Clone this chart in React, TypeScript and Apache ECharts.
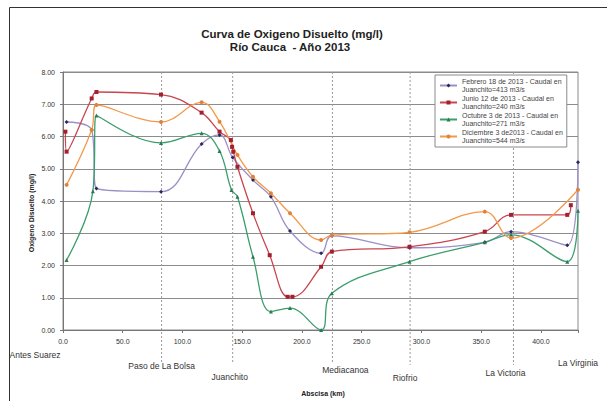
import React, { useEffect, useRef } from 'react';
import * as echarts from 'echarts';

const titleLines = ['Curva de Oxigeno Disuelto (mg/l)', 'Río Cauca  - Año 2013'];
const xAxisTitle = 'Abscisa (km)';
const yAxisTitle = 'Oxigeno Disuelto (mg/l)';

const seriesNames = [
  'Febrero 18 de 2013 - Caudal en\nJuanchito=413 m3/s',
  'Junio 12 de 2013 - Caudal en\nJuanchito=240 m3/s',
  'Octubre 3 de 2013 - Caudal en\nJuanchito=271 m3/s',
  'Diciembre 3 de2013 - Caudal en\nJuanchito=544 m3/s',
];

// Febrero 18
const febKm = [3, 24, 28, 82, 116, 131, 142, 159, 174, 190, 216, 225, 290, 353, 375, 422, 431];
const febOD = [6.45, 6.2, 4.39, 4.29, 5.77, 6.05, 5.35, 4.65, 4.13, 3.07, 2.38, 2.92, 2.55, 2.72, 3.05, 2.63, 5.2];
// Junio 12
const junKm = [2, 3, 24, 28, 82, 116, 131, 140.5, 141.5, 142.5, 146, 159, 173, 188, 192, 216, 225, 290, 353, 375, 422, 425];
const junOD = [6.15, 5.53, 7.18, 7.38, 7.3, 6.74, 6.15, 5.89, 5.68, 5.53, 5.06, 3.62, 2.32, 1.03, 1.03, 1.96, 2.43, 2.58, 3.05, 3.57, 3.57, 3.87];
// Octubre 3
const octKm = [3, 25, 28, 82, 116, 131, 141, 146, 159, 174, 190, 216, 225, 290, 353, 375, 422, 431];
const octOD = [2.17, 4.3, 6.65, 5.8, 6.1, 5.55, 4.34, 4.13, 2.27, 0.57, 0.68, 0.0, 1.14, 2.12, 2.72, 2.95, 2.12, 3.7];
// Diciembre 3
const dicKm = [3, 24, 28, 82, 116, 131, 146, 159, 174, 190, 216, 225, 290, 353, 375, 431];
const dicOD = [4.5, 6.2, 6.98, 6.45, 7.06, 6.46, 5.43, 4.75, 4.24, 3.62, 2.79, 2.94, 3.03, 3.67, 2.85, 4.35];

const stationNames = ['Antes Suarez', 'Paso de La Bolsa', 'Juanchito', 'Mediacanoa', 'Riofrio', 'La Victoria', 'La Virginia'];
const stationKm = [0, 82.5, 142, 225.5, 290.5, 377, 431];

// layout of station labels (pixels)
const stationLabelDx = [-28, 0, -3, 13, -5, -8, 0];
const stationLabelY = [355, 366, 377, 370, 378, 373, 363];
const stationTickExt = [0, 32, 33, 32, 35, 35, 0];

const xMin = 0;
const xMax = 431;
const xStep = 50;
const yMin = 0;
const yMax = 8;
const yStep = 1;

const lineColors = ['#9d90c6', '#c8464f', '#3a9e6c', '#f3994b'];
const markerColors = ['#27285e', '#a3202e', '#2b7a50', '#e0823a'];
const markerShapes = ['diamond', 'rect', 'triangle', 'circle'];

const FONT = 'Liberation Sans';

export default function App() {
  const ref = useRef<HTMLDivElement>(null);

  useEffect(() => {
    if (!ref.current) return;
    const chart = echarts.init(ref.current, undefined, { renderer: 'svg' });

    const kms = [febKm, junKm, octKm, dicKm];
    const ods = [febOD, junOD, octOD, dicOD];

    const lineSeries = seriesNames.map((name, i) => ({
      name,
      type: 'line',
      data: kms[i].map((k, j) => [k, ods[i][j]]),
      smooth: 0.4,
      symbol: markerShapes[i],
      symbolSize: 4,
      showSymbol: true,
      lineStyle: { color: lineColors[i], width: 1.3 },
      itemStyle: { color: markerColors[i] },
      z: 3,
    }));

    const stationSeries = {
      name: 'stations',
      type: 'custom',
      z: 1,
      silent: true,
      data: stationKm.map((k) => [k, 0]),
      encode: { x: 0, y: 1 },
      renderItem: (params: any, api: any) => {
        const idx = params.dataIndex;
        const km = api.value(0);
        const top = api.coord([km, yMax]);
        const bot = api.coord([km, yMin]);
        const x = top[0];
        const children: any[] = [];
        if (km > xMin && km < xMax) {
          children.push({
            type: 'line',
            shape: { x1: x, y1: top[1], x2: x, y2: bot[1] + stationTickExt[idx] },
            style: { stroke: '#9a9a9a', lineWidth: 1, lineDash: [2, 2] },
          });
        }
        children.push({
          type: 'text',
          style: {
            text: stationNames[idx],
            x: x + stationLabelDx[idx],
            y: stationLabelY[idx],
            fontSize: 8.5,
            fontFamily: FONT,
            fill: '#333',
            align: 'center',
            verticalAlign: 'middle',
          },
        });
        return { type: 'group', children };
      },
    };

    chart.setOption({
      animation: false,
      backgroundColor: '#fff',
      textStyle: { fontFamily: FONT },
      grid: {
        left: 63,
        top: 72,
        width: 515,
        height: 258,
        show: true,
        borderColor: '#8a8a8a',
        borderWidth: 1,
        backgroundColor: 'transparent',
      },
      xAxis: {
        type: 'value',
        min: xMin,
        max: xMax,
        interval: xStep,
        axisLine: { show: true, lineStyle: { color: '#777' } },
        axisTick: { show: true, length: 3, lineStyle: { color: '#777' } },
        splitLine: { show: false },
        axisLabel: {
          fontSize: 7,
          color: '#333',
          margin: 8,
          fontFamily: FONT,
          formatter: (v: number) => (v % xStep === 0 ? v.toFixed(1) : ''),
        },
      },
      yAxis: {
        type: 'value',
        min: yMin,
        max: yMax,
        interval: yStep,
        axisLine: { show: true, lineStyle: { color: '#777' } },
        axisTick: { show: true, length: 3, lineStyle: { color: '#777' } },
        splitLine: { show: true, lineStyle: { color: '#8c8c8c', width: 1.2 } },
        axisLabel: {
          fontSize: 7,
          color: '#333',
          margin: 8,
          fontFamily: FONT,
          formatter: (v: number) => v.toFixed(2),
        },
      },
      legend: {
        data: seriesNames,
        orient: 'vertical',
        left: 435,
        top: 75,
        itemWidth: 17,
        itemHeight: 5,
        itemGap: 2,
        padding: [3, 4, 3, 4],
        borderColor: '#8a8a8a',
        borderWidth: 1,
        backgroundColor: '#fff',
        textStyle: { fontSize: 7, lineHeight: 7.5, color: '#444', fontFamily: FONT },
      },
      graphic: [
        {
          type: 'rect',
          shape: { x: 9.5, y: 7.5, width: 700, height: 500 },
          style: { fill: 'none', stroke: '#333', lineWidth: 1 },
          silent: true,
        },
        {
          type: 'text',
          x: 292,
          y: 34,
          style: {
            text: titleLines[0],
            fontSize: 11.5,
            fontWeight: 'bold',
            fontFamily: FONT,
            fill: '#222',
            align: 'center',
            verticalAlign: 'middle',
          },
        },
        {
          type: 'text',
          x: 290,
          y: 47,
          style: {
            text: titleLines[1],
            fontSize: 11.5,
            fontWeight: 'bold',
            fontFamily: FONT,
            fill: '#222',
            align: 'center',
            verticalAlign: 'middle',
          },
        },
        {
          type: 'text',
          x: 323,
          y: 393,
          style: {
            text: xAxisTitle,
            fontSize: 7,
            fontWeight: 'bold',
            fontFamily: FONT,
            fill: '#222',
            align: 'center',
            verticalAlign: 'middle',
          },
        },
        {
          type: 'text',
          x: 31,
          y: 213,
          rotation: Math.PI / 2,
          style: {
            text: yAxisTitle,
            fontSize: 7,
            fontWeight: 'bold',
            fontFamily: FONT,
            fill: '#222',
            align: 'center',
            verticalAlign: 'middle',
          },
        },
      ],
      series: [stationSeries, ...lineSeries],
    });

    return () => chart.dispose();
  }, []);

  return (
    <div
      ref={ref}
      style={{ position: 'fixed', left: 0, top: 0, width: 607, height: 401, background: '#fff' }}
    />
  );
}
